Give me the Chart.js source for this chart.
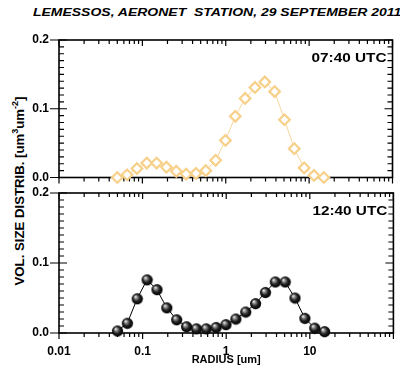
<!DOCTYPE html>
<html>
<head>
<meta charset="utf-8">
<script src="https://cdn.jsdelivr.net/npm/chart.js@4.4.1/dist/chart.umd.min.js"></script>
<style>
  html, body { margin: 0; padding: 0; background: #fff; }
  body { width: 400px; height: 367px; position: relative; overflow: hidden; font-family: "Liberation Sans", Arial, sans-serif; }
  #title { position: absolute; left: 33px; top: 6px; font: italic bold 11px "Liberation Sans", Arial, sans-serif; white-space: pre; color: #000; transform: scaleX(1.27); transform-origin: 0 50%; }
  #ylab { position: absolute; left: 19px; top: 191px; transform: translate(-50%, -50%) rotate(-90deg); font: bold 13.2px "Liberation Sans", Arial, sans-serif; white-space: nowrap; color: #000; }
  #ylab sup { font-size: 9px; line-height: 0; }
  #cA { position: absolute; left: 0; top: 0; }
  #cB { position: absolute; left: 0; top: 185px; }
</style>
</head>
<body>
<div id="title">LEMESSOS, AERONET  STATION, 29 SEPTEMBER 2011</div>
<div id="ylab">VOL. SIZE DISTRIB. [um<sup>3</sup>um<sup>-2</sup>]</div>
<canvas id="cA" width="400" height="185"></canvas>
<canvas id="cB" width="400" height="182"></canvas>
<script>
// ---- data ----
const radius = [0.050, 0.0656, 0.0861, 0.1129, 0.1482, 0.1944, 0.2551, 0.3347, 0.4392, 0.5762, 0.7561,
                0.9920, 1.3016, 1.7078, 2.2407, 2.9400, 3.8575, 5.0613, 6.6407, 8.7131, 11.4323, 15.0];
const utc0740 = [0.000, 0.004, 0.013, 0.021, 0.021, 0.015, 0.009, 0.005, 0.006, 0.010, 0.025,
                 0.054, 0.089, 0.115, 0.131, 0.139, 0.125, 0.084, 0.042, 0.014, 0.003, 0.000];
const utc1240 = [0.003, 0.014, 0.049, 0.076, 0.062, 0.036, 0.019, 0.009, 0.006, 0.006, 0.008,
                 0.012, 0.020, 0.030, 0.042, 0.058, 0.073, 0.073, 0.050, 0.021, 0.007, 0.002];
const yTicks = [0, 0.1, 0.2];
const xTickLabels = [0.01, 0.1, 1, 10];
const panelLabels = ['07:40 UTC', '12:40 UTC'];

const FONT = '"Liberation Sans", Arial, sans-serif';

// sphere marker
function makeSphere(r) {
  const s = 2 * r + 2;
  const c = document.createElement('canvas');
  c.width = s; c.height = s;
  const g = c.getContext('2d');
  const cx = s / 2, cy = s / 2;
  const grad = g.createRadialGradient(cx - r * 0.35, cy - r * 0.4, 0.3, cx, cy, r);
  grad.addColorStop(0, '#f4f4f4');
  grad.addColorStop(0.25, '#8a8a8a');
  grad.addColorStop(0.6, '#1e1e1e');
  grad.addColorStop(1, '#000000');
  g.fillStyle = grad;
  g.beginPath(); g.arc(cx, cy, r, 0, Math.PI * 2); g.fill();
  return c;
}
const sphere = makeSphere(5.6);

const framePlugin = {
  id: 'frame',
  beforeDatasetsDraw(chart, args, opts) {
    const ctx = chart.ctx;
    const a = chart.chartArea;
    const xs = chart.scales.x, ys = chart.scales.y;
    ctx.save();
    ctx.strokeStyle = '#000';
    ctx.lineWidth = 1.6;
    ctx.strokeRect(a.left, a.top, a.right - a.left, a.bottom - a.top);
    ctx.lineWidth = 1.2;
    ctx.beginPath();
    // y ticks
    for (let i = 0; i <= 20; i++) {
      const v = i / 100;
      const y = ys.getPixelForValue(v);
      const major = i % 10 === 0;
      if (major) {
        ctx.moveTo(a.left - 9, y); ctx.lineTo(a.left + 8, y);
        ctx.moveTo(a.right - 8, y); ctx.lineTo(a.right, y);
      } else {
        ctx.moveTo(a.left, y); ctx.lineTo(a.left + 5, y);
        ctx.moveTo(a.right - 5, y); ctx.lineTo(a.right, y);
      }
    }
    // x ticks
    for (let e = -2; e <= 2; e++) {
      for (let m = 1; m <= 9; m++) {
        const v = m * Math.pow(10, e);
        if (v > 100.0001) break;
        const x = xs.getPixelForValue(v);
        const len = m === 1 ? 6 : 4;
        ctx.moveTo(x, a.bottom); ctx.lineTo(x, a.bottom + len);
        ctx.moveTo(x, a.top); ctx.lineTo(x, a.top + len);
      }
    }
    ctx.stroke();
    // panel label (slightly widened like the reference lettering)
    ctx.fillStyle = '#000';
    ctx.font = 'bold 13px ' + FONT;
    ctx.textAlign = 'right';
    ctx.textBaseline = 'middle';
    ctx.translate(a.right - 6, a.top + 18);
    ctx.scale(1.18, 1);
    ctx.fillText(opts.label, 0, 0);
    ctx.restore();
  }
};

function yScale() {
  return {
    type: 'linear', min: 0, max: 0.2,
    afterBuildTicks: s => { s.ticks = yTicks.map(v => ({ value: v })); },
    afterFit: s => { s.width = 59; s.paddingTop = 0; s.paddingBottom = 0; },
    grid: { display: false, drawTicks: false },
    border: { display: false },
    ticks: { color: '#000', padding: 10, font: { family: FONT, size: 12, weight: 'bold' },
             callback: v => Number(v).toFixed(1) }
  };
}

new Chart(document.getElementById('cA'), {
  type: 'line',
  data: {
    labels: radius,
    datasets: [{
      data: radius.map((r, i) => ({ x: r, y: utc0740[i] })),
      borderColor: '#f8d79e', borderWidth: 1,
      pointStyle: 'rectRot', pointRadius: 5.3, pointBorderWidth: 2.2,
      pointBorderColor: '#f7d08a', pointBackgroundColor: '#ffffff',
      clip: false, tension: 0
    }]
  },
  options: {
    responsive: false, animation: false, devicePixelRatio: 1,
    layout: { padding: { top: 40, right: 2, left: 0, bottom: 6 } },
    plugins: { legend: { display: false }, tooltip: { enabled: false }, frame: { label: panelLabels[0] } },
    scales: {
      x: { type: 'logarithmic', min: 0.01, max: 100, display: false },
      y: yScale()
    }
  },
  plugins: [framePlugin]
});

new Chart(document.getElementById('cB'), {
  type: 'line',
  data: {
    labels: radius,
    datasets: [{
      data: radius.map((r, i) => ({ x: r, y: utc1240[i] })),
      borderColor: '#000', borderWidth: 1,
      pointStyle: sphere, pointRadius: 5.6,
      clip: false, tension: 0
    }]
  },
  options: {
    responsive: false, animation: false, devicePixelRatio: 1,
    layout: { padding: { top: 8, right: 2, left: 0, bottom: 0 } },
    plugins: { legend: { display: false }, tooltip: { enabled: false }, frame: { label: panelLabels[1] } },
    scales: {
      x: {
        type: 'logarithmic', min: 0.01, max: 100,
        afterBuildTicks: s => { s.ticks = xTickLabels.map(v => ({ value: v })); },
        afterFit: s => { s.height = 34; s.paddingLeft = 0; s.paddingRight = 0; },
        grid: { display: false, drawTicks: false },
        border: { display: false },
        ticks: { color: '#000', padding: 11, maxRotation: 0, autoSkip: false,
                 font: { family: FONT, size: 12, weight: 'bold' },
                 callback: (v) => String(Number(v)) },
        title: { display: true, text: 'RADIUS [um]', color: '#000', padding: { top: 0, bottom: 0 },
                 font: { family: FONT, size: 11, weight: 'bold' } }
      },
      y: yScale()
    }
  },
  plugins: [framePlugin]
});
</script>
</body>
</html>
